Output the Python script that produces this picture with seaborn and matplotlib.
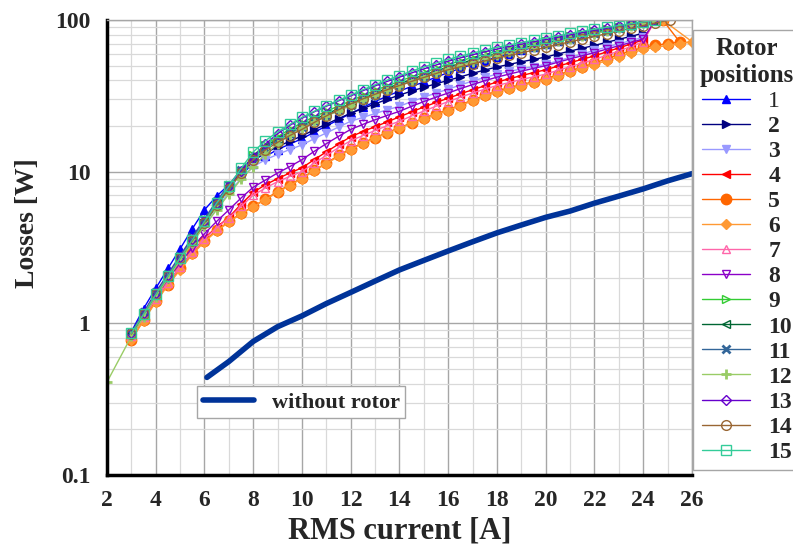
import matplotlib
matplotlib.use("Agg")
import matplotlib.pyplot as plt
from matplotlib.ticker import MultipleLocator, LogLocator, NullFormatter
import seaborn as sns
import pandas as pd

# RMS current steps shared by the rotor position measurements [A]
current = [3.0, 3.5, 4.0, 4.5, 5.0, 5.5, 6.0, 6.5, 7.0, 7.5,
           8.0, 8.5, 9.0, 9.5, 10.0, 10.5, 11.0, 11.5, 12.0, 12.5,
           13.0, 13.5, 14.0, 14.5, 15.0, 15.5, 16.0, 16.5, 17.0, 17.5,
           18.0, 18.5, 19.0, 19.5, 20.0, 20.5, 21.0, 21.5, 22.0, 22.5,
           23.0, 23.5, 24.0]

# losses [W] per rotor position, one value per current step
losses = {
    "1": [0.88, 1.25, 1.7, 2.3, 3.1, 4.2, 5.6, 6.9, 8.2, 9.6,
          11.2, 12.6, 14.0, 15.2, 16.5, 18.2, 20.0, 22.0, 24.2, 26.5,
          29.0, 31.5, 34.0, 36.5, 39.0, 42.0, 45.0, 48.0, 51.0, 54.0,
          57.0, 60.0, 63.0, 66.0, 69.0, 72.5, 76.0, 79.5, 83.0, 86.5,
          90.0, 93.5, 97.0],
    "2": [0.85, 1.15, 1.55, 2.05, 2.7, 3.5, 4.6, 6.0, 7.7, 9.8,
          11.8, 13.3, 14.6, 15.9, 17.2, 18.9, 20.6, 22.4, 24.3, 26.1,
          28.0, 30.0, 32.0, 34.0, 36.0, 38.0, 40.0, 42.2, 44.5, 46.8,
          49.0, 51.0, 53.0, 55.0, 57.0, 59.7, 62.4, 65.2, 68.0, 71.3,
          74.6, 78.0, 82.0],
    "3": [0.84, 1.13, 1.52, 2.0, 2.6, 3.4, 4.4, 5.7, 7.3, 9.0,
          10.8, 12.0, 13.0, 14.0, 15.0, 16.5, 18.0, 19.7, 21.5, 22.8,
          24.2, 25.6, 27.0, 29.0, 31.0, 33.0, 35.0, 37.3, 39.6, 41.8,
          44.0, 45.8, 47.6, 49.3, 51.0, 53.8, 56.7, 59.8, 63.0, 66.3,
          69.7, 73.2, 77.0],
    "4": [0.82, 1.1, 1.45, 1.85, 2.35, 2.95, 3.65, 4.3, 5.0, 6.1,
          7.3, 8.2, 9.0, 9.8, 10.6, 12.0, 13.5, 15.2, 17.0, 18.4,
          19.8, 21.3, 23.0, 24.8, 26.7, 28.6, 30.5, 32.6, 34.7, 36.8,
          39.0, 41.0, 43.0, 45.0, 47.0, 49.6, 52.3, 55.1, 58.0, 61.7,
          65.5, 69.5, 74.0],
    "5": [0.78, 1.05, 1.4, 1.8, 2.3, 2.9, 3.5, 4.1, 4.7, 5.3,
          5.9, 6.6, 7.4, 8.2, 9.1, 10.2, 11.4, 12.8, 14.2, 15.5,
          16.8, 18.1, 19.5, 21.0, 22.5, 24.0, 25.6, 27.6, 29.7, 31.8,
          34.0, 35.8, 37.5, 39.2, 41.0, 43.5, 46.0, 49.0, 52.0, 55.5,
          59.0, 62.5, 66.0],
    "6": [0.78, 1.04, 1.38, 1.78, 2.25, 2.85, 3.45, 4.05, 4.65, 5.25,
          5.85, 6.55, 7.3, 8.1, 9.0, 10.1, 11.3, 12.6, 14.0, 15.3,
          16.6, 17.9, 19.3, 20.8, 22.3, 23.8, 25.3, 27.3, 29.3, 31.4,
          33.5, 35.2, 36.9, 38.6, 40.3, 42.7, 45.2, 48.0, 50.8, 54.0,
          57.3, 60.6, 64.0],
    "7": [0.82, 1.1, 1.45, 1.85, 2.35, 2.95, 3.6, 4.25, 4.95, 5.9,
          7.0, 7.8, 8.6, 9.3, 10.0, 11.4, 12.8, 14.4, 16.0, 17.3,
          18.7, 20.1, 21.5, 23.3, 25.1, 27.0, 29.0, 31.0, 33.0, 35.0,
          37.0, 38.7, 40.5, 42.2, 44.0, 46.6, 49.2, 52.0, 55.0, 58.6,
          62.5, 66.9, 72.0],
    "8": [0.84, 1.12, 1.5, 1.95, 2.5, 3.15, 3.9, 4.7, 5.6, 6.7,
          7.9, 8.8, 9.8, 10.8, 12.0, 13.6, 15.3, 17.1, 19.0, 20.5,
          22.0, 23.5, 25.0, 27.0, 29.0, 31.0, 33.0, 35.3, 37.5, 39.8,
          42.0, 44.0, 46.0, 48.0, 50.0, 52.7, 55.4, 58.2, 61.0, 64.3,
          67.7, 71.2, 75.0],
    "9": [0.85, 1.14, 1.53, 2.02, 2.65, 3.45, 4.55, 5.95, 7.7, 10.0,
          12.8, 15.0, 17.0, 19.0, 21.0, 23.0, 25.0, 27.1, 29.3, 31.8,
          34.3, 36.9, 39.5, 42.3, 45.1, 48.0, 51.0, 53.8, 56.6, 59.3,
          62.0, 64.6, 67.2, 69.8, 72.5, 75.3, 78.2, 81.1, 84.0, 87.0,
          90.0, 93.0, 96.0],
    "10": [0.86, 1.16, 1.56, 2.06, 2.72, 3.55, 4.65, 6.1, 7.9, 10.2,
           12.6, 14.6, 16.5, 18.3, 20.2, 22.1, 24.0, 26.0, 28.1, 30.5,
           33.0, 35.5, 38.0, 40.7, 43.4, 46.2, 49.0, 51.8, 54.6, 57.3,
           60.0, 62.6, 65.2, 67.8, 70.5, 73.4, 76.4, 79.4, 82.5, 85.7,
           89.0, 92.4, 96.0],
    "11": [0.87, 1.18, 1.6, 2.12, 2.8, 3.7, 4.9, 6.4, 8.2, 10.3,
           12.4, 14.3, 16.0, 17.8, 19.6, 21.5, 23.4, 25.4, 27.5, 29.8,
           32.2, 34.6, 37.0, 39.7, 42.4, 45.2, 48.0, 50.8, 53.6, 56.3,
           59.0, 61.6, 64.2, 66.8, 69.5, 72.4, 75.4, 78.4, 81.5, 84.8,
           88.2, 91.8, 95.5],
    "12": [0.82, 1.1, 1.5, 1.98, 2.6, 3.4, 4.4, 5.6, 7.1, 8.9,
           10.8, 13.0, 15.3, 17.4, 19.4, 21.3, 23.2, 25.2, 27.3, 29.6,
           31.9, 34.3, 36.8, 39.4, 42.0, 44.7, 47.5, 50.3, 53.1, 55.9,
           58.7, 61.3, 64.0, 66.6, 69.3, 72.2, 75.2, 78.2, 81.3, 84.6,
           88.0, 91.6, 95.3],
    "13": [0.86, 1.17, 1.58, 2.08, 2.75, 3.6, 4.75, 6.2, 8.0, 10.1,
           12.5, 15.2, 17.8, 20.2, 22.5, 24.8, 27.0, 29.3, 31.6, 34.2,
           36.8, 39.4, 42.0, 44.8, 47.6, 50.5, 53.5, 56.3, 59.0, 61.7,
           64.3, 66.8, 69.3, 71.8, 74.3, 77.0, 79.8, 82.6, 85.4, 88.2,
           91.0, 93.8, 96.8],
    "14": [0.85, 1.15, 1.55, 2.05, 2.7, 3.5, 4.6, 6.0, 7.7, 9.8,
           12.0, 13.9, 15.6, 17.3, 19.0, 21.1, 23.3, 25.6, 28.0, 30.2,
           32.4, 34.7, 37.0, 39.4, 41.8, 44.4, 47.0, 49.2, 51.4, 53.7,
           56.0, 58.4, 60.8, 63.3, 66.0, 68.9, 71.8, 74.9, 78.0, 81.3,
           84.7, 88.2, 92.0],
    "15": [0.86, 1.15, 1.55, 2.05, 2.7, 3.55, 4.7, 6.2, 8.0, 10.5,
           13.5, 16.0, 18.3, 20.5, 22.8, 25.0, 27.3, 29.6, 32.0, 34.7,
           37.4, 40.2, 43.0, 46.0, 49.0, 52.0, 55.0, 57.8, 60.5, 63.3,
           66.0, 68.5, 71.0, 73.5, 76.0, 78.8, 81.5, 84.3, 87.0, 89.5,
           92.0, 94.5, 97.0],
}

# points measured before / after the common current steps
head_current = {"12": [2.0]}
head_losses = {"12": [0.41]}
tail_current = {
    "1": [24.3], "4": [24.5], "5": [24.5, 25.0, 25.5, 24.8],
    "6": [24.5, 25.0, 25.5, 26.0, 24.8], "7": [24.5], "8": [24.5],
    "9": [24.4], "10": [24.4], "11": [24.3], "12": [24.4], "13": [24.4],
    "14": [24.5, 25.1], "15": [24.5],
}
tail_losses = {
    "1": [100], "4": [100], "5": [68.0, 70.0, 71.6, 100],
    "6": [66.0, 68.0, 70.0, 72.0, 100], "7": [100], "8": [100],
    "9": [100], "10": [100], "11": [100], "12": [100], "13": [100],
    "14": [95.5, 100], "15": [100],
}

# stator alone
current_no_rotor = [6.1, 7, 8, 9, 10, 11, 12, 13, 14, 15, 16, 17, 18, 19,
                    20, 21, 22, 23, 24, 25, 26]
losses_no_rotor = [0.44, 0.56, 0.76, 0.95, 1.12, 1.35, 1.6, 1.9, 2.25, 2.6,
                   3.0, 3.45, 3.95, 4.45, 5.0, 5.5, 6.2, 6.9, 7.7, 8.7, 9.7]

# colour, marker, filled, marker size
styles = {
    "1": ("#0000FF", "^", True, 6),
    "2": ("#000080", ">", True, 6),
    "3": ("#9999FF", "v", True, 6),
    "4": ("#FF0000", "<", True, 6),
    "5": ("#FF6600", "o", True, 7.5),
    "6": ("#FF9933", "D", True, 5.5),
    "7": ("#FF66AA", "^", False, 6),
    "8": ("#8B00C8", "v", False, 6),
    "9": ("#33CC33", ">", False, 6),
    "10": ("#006633", "<", False, 6),
    "11": ("#336699", "x", True, 6),
    "12": ("#99CC66", "+", True, 7),
    "13": ("#6600CC", "D", False, 5.5),
    "14": ("#996633", "o", False, 7),
    "15": ("#33CC99", "s", False, 7),
}

sns.set_style("white")
plt.rcParams["font.family"] = ["Liberation Serif", "DejaVu Serif"]
plt.rcParams["font.weight"] = "bold"

fig = plt.figure(figsize=(7.93, 5.56), dpi=100)
ax = fig.add_axes([0.1349, 0.1457, 0.7377, 0.8183])

handles = []
for name, vals in losses.items():
    x = head_current.get(name, []) + current + tail_current.get(name, [])
    y = head_losses.get(name, []) + vals + tail_losses.get(name, [])
    df = pd.DataFrame({"I": x, "P": y})
    color, marker, filled, ms = styles[name]
    sns.lineplot(data=df, x="I", y="P", sort=False, estimator=None, ax=ax,
                 color=color, lw=1.0, marker=marker, markersize=ms,
                 markerfacecolor=color if filled else "none",
                 markeredgecolor=color,
                 markeredgewidth=2.0 if marker in "x+" else 1.0,
                 legend=False)
    handles.append(ax.lines[-1])

df0 = pd.DataFrame({"I": current_no_rotor, "P": losses_no_rotor})
sns.lineplot(data=df0, x="I", y="P", ax=ax, color="#003399", lw=4,
             solid_capstyle="round", legend=False)
line0 = ax.lines[-1]

ax.set_yscale("log")
ax.set_xlim(2, 26)
ax.set_ylim(0.1, 100)
ax.set_xticks(range(2, 27, 2))
ax.xaxis.set_minor_locator(MultipleLocator(1))
ax.set_yticks([0.1, 1, 10, 100], labels=["0.1", "1", "10", "100"])
ax.yaxis.set_minor_locator(LogLocator(base=10, subs=range(2, 10)))
ax.yaxis.set_minor_formatter(NullFormatter())
ax.tick_params(which="major", direction="in", length=8, width=2,
               labelsize=17, color="black")
ax.tick_params(which="minor", direction="in", length=4, width=1.8,
               color="black")
ax.tick_params(axis="x", which="major", pad=11)
ax.tick_params(axis="y", which="major", pad=12)

ax.grid(which="major", color="#a6a6a6", lw=1.0)
ax.grid(which="minor", color="#d9d9d9", lw=0.9)
ax.set_axisbelow(True)
for side in ["left", "bottom"]:
    ax.spines[side].set_color("black")
    ax.spines[side].set_linewidth(2.5)
for side in ["top", "right"]:
    ax.spines[side].set_color("#a6a6a6")
    ax.spines[side].set_linewidth(1.0)

ax.set_xlabel("RMS current [A]", fontsize=22, fontweight="bold", labelpad=4)
ax.set_ylabel("Losses [W]", fontsize=20, fontweight="bold")
ax.yaxis.set_label_coords(-0.115, 0.554)

leg = fig.legend(handles, list(losses.keys()), title="Rotor\npositions",
                 loc="lower left", bbox_to_anchor=(693 / 793, 1 - 470 / 556),
                 borderaxespad=0, fontsize=17, title_fontsize=18,
                 labelspacing=0.15, handlelength=2.0, handletextpad=0.8,
                 frameon=True, fancybox=False, edgecolor="#a6a6a6",
                 framealpha=1, borderpad=0.3)
leg.get_title().set_fontweight("bold")
leg.get_title().set_multialignment("center")
leg.get_frame().set_linewidth(1.0)
leg.get_texts()[0].set_fontweight("normal")

leg2 = ax.legend([line0], ["without rotor"], loc="lower left",
                 bbox_to_anchor=(0.154, 0.125), borderaxespad=0,
                 fontsize=16, handlelength=2.3, handletextpad=0.8,
                 frameon=True, fancybox=False, edgecolor="#a6a6a6",
                 framealpha=1, borderpad=0.25)
leg2.get_frame().set_linewidth(1.0)

fig.savefig("out.png", dpi=100)
